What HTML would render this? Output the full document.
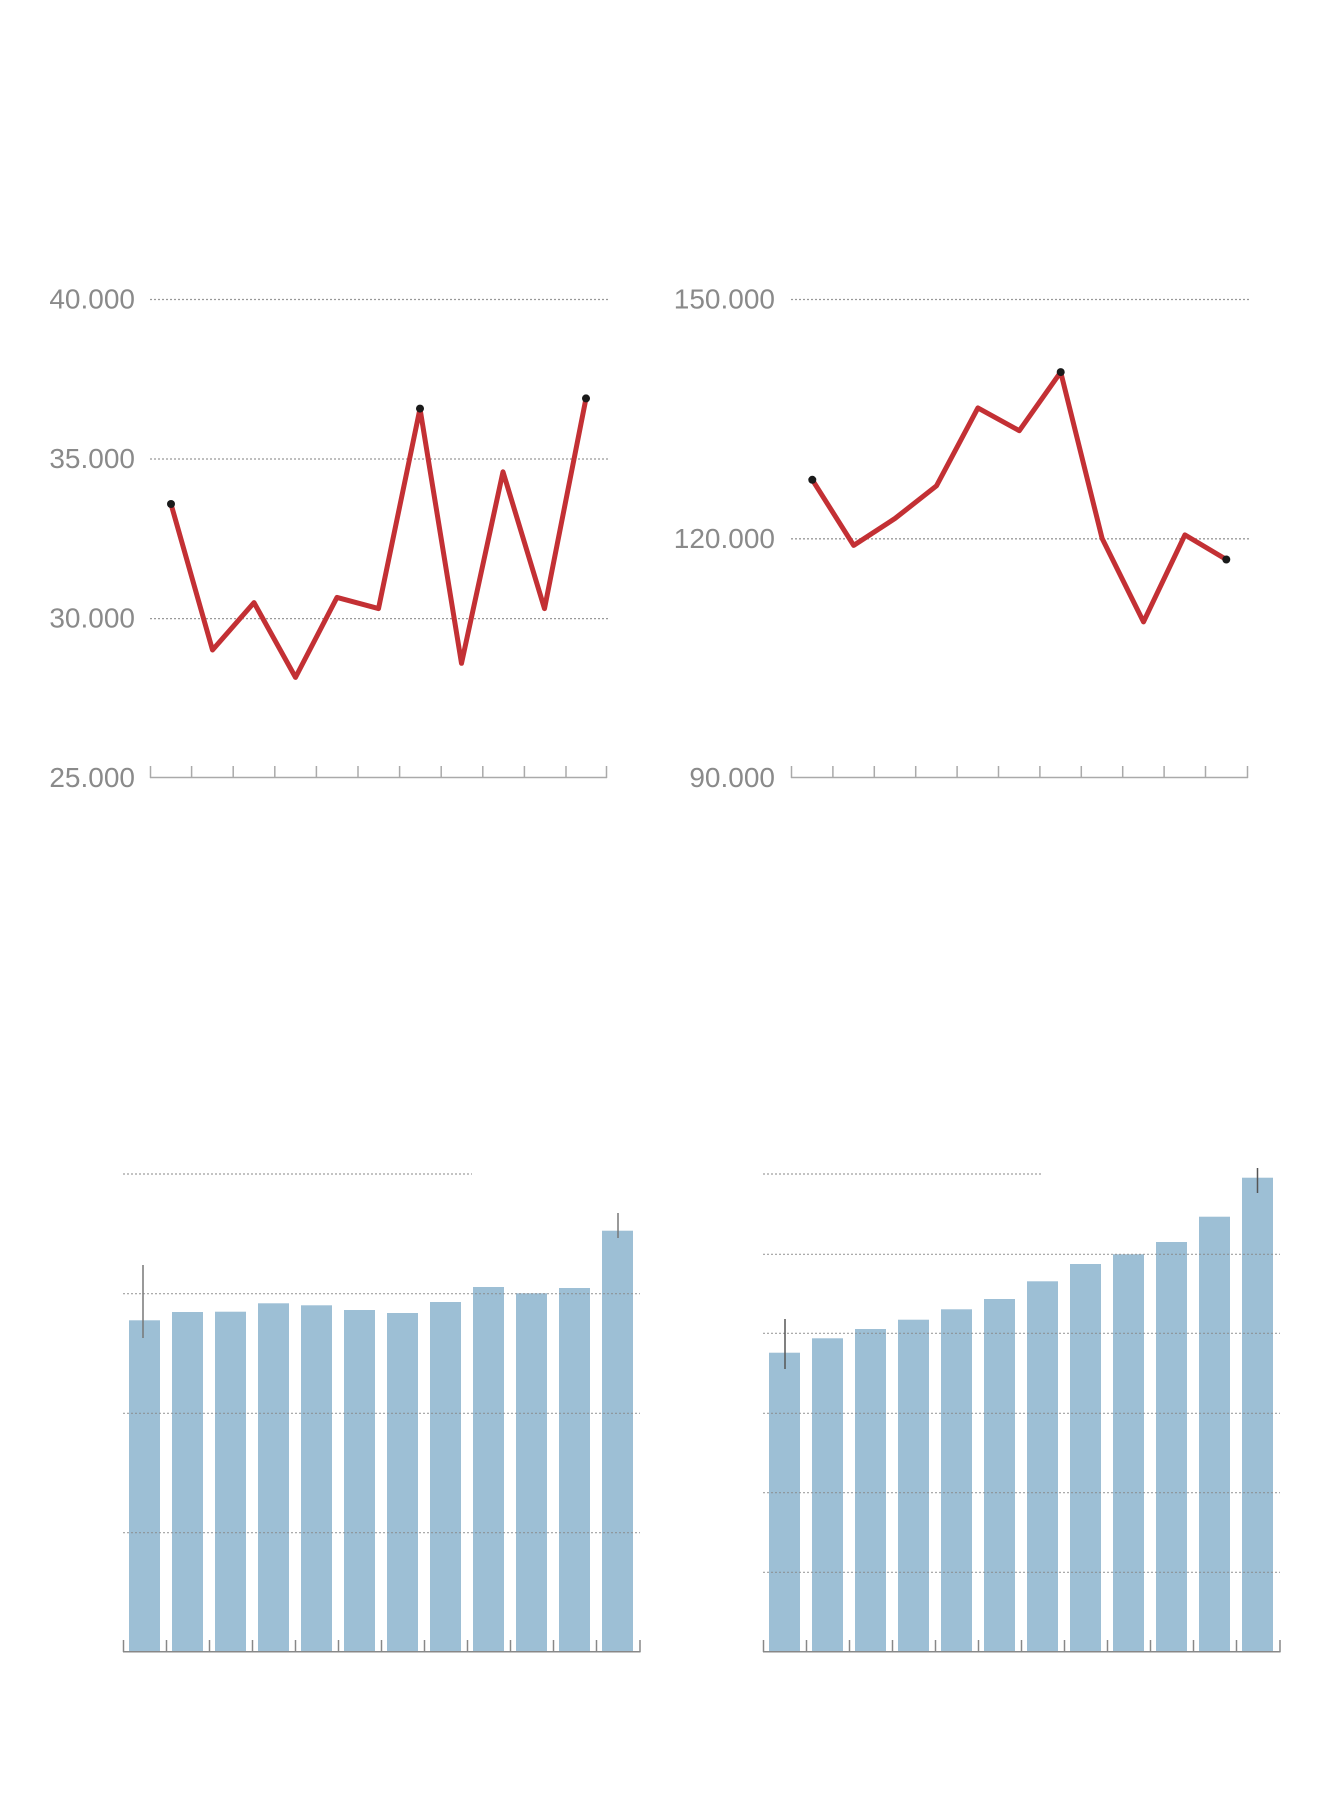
<!DOCTYPE html>
<html><head><meta charset="utf-8"><style>
html,body{margin:0;padding:0;background:#fff}
svg{display:block}
text{font-family:"Liberation Sans",sans-serif;font-size:28px;fill:#8a8a8a}
</style></head><body>
<svg width="1320" height="1800" viewBox="0 0 1320 1800">
<!-- Chart 1 -->
<g stroke="#999" stroke-width="1.3" stroke-dasharray="2,2">
<line x1="150" y1="299.5" x2="608" y2="299.5"/>
<line x1="150" y1="459" x2="608" y2="459"/>
<line x1="150" y1="618.6" x2="608" y2="618.6"/>
</g>
<g text-anchor="end">
<text x="135" y="308.5">40.000</text>
<text x="135" y="468">35.000</text>
<text x="135" y="627.6">30.000</text>
<text x="135" y="787">25.000</text>
</g>
<g stroke="#aaa" stroke-width="1.5">
<line x1="150" y1="777.5" x2="607" y2="777.5"/>
<line x1="150.5" y1="766" x2="150.5" y2="778"/><line x1="191.6" y1="766" x2="191.6" y2="778"/><line x1="233.2" y1="766" x2="233.2" y2="778"/><line x1="274.8" y1="766" x2="274.8" y2="778"/><line x1="316.4" y1="766" x2="316.4" y2="778"/><line x1="358" y1="766" x2="358" y2="778"/><line x1="399.6" y1="766" x2="399.6" y2="778"/><line x1="441.2" y1="766" x2="441.2" y2="778"/><line x1="482.8" y1="766" x2="482.8" y2="778"/><line x1="524.4" y1="766" x2="524.4" y2="778"/><line x1="566" y1="766" x2="566" y2="778"/><line x1="606.5" y1="766" x2="606.5" y2="778"/>
</g>
<polyline fill="none" stroke="#c33034" stroke-width="5" stroke-linejoin="round" points="171,504 212.5,650 254,602.6 295.5,677.4 337,597.4 378.5,608.6 420,408.6 461.5,663.3 503,471.8 544.5,608.6 586,398.4"/>
<g fill="#1a1a1a"><circle cx="171" cy="504" r="4"/><circle cx="420" cy="408.6" r="4"/><circle cx="586" cy="398.4" r="4"/></g>

<!-- Chart 2 -->
<g stroke="#999" stroke-width="1.3" stroke-dasharray="2,2">
<line x1="791" y1="299.5" x2="1250" y2="299.5"/>
<line x1="791" y1="538.8" x2="1250" y2="538.8"/>
</g>
<g text-anchor="end">
<text x="775" y="308.5">150.000</text>
<text x="775" y="547.8">120.000</text>
<text x="775" y="787">90.000</text>
</g>
<g stroke="#aaa" stroke-width="1.5">
<line x1="791" y1="777.5" x2="1248" y2="777.5"/>
<line x1="791.5" y1="766" x2="791.5" y2="778"/><line x1="832.9" y1="766" x2="832.9" y2="778"/><line x1="874.3" y1="766" x2="874.3" y2="778"/><line x1="915.7" y1="766" x2="915.7" y2="778"/><line x1="957.1" y1="766" x2="957.1" y2="778"/><line x1="998.5" y1="766" x2="998.5" y2="778"/><line x1="1039.9" y1="766" x2="1039.9" y2="778"/><line x1="1081.3" y1="766" x2="1081.3" y2="778"/><line x1="1122.7" y1="766" x2="1122.7" y2="778"/><line x1="1164.1" y1="766" x2="1164.1" y2="778"/><line x1="1205.5" y1="766" x2="1205.5" y2="778"/><line x1="1247.5" y1="766" x2="1247.5" y2="778"/>
</g>
<polyline fill="none" stroke="#c33034" stroke-width="5" stroke-linejoin="round" points="812.3,479.8 853.7,545.4 895.1,518.4 936.5,485.8 977.9,407.9 1019.3,430.7 1060.7,372.1 1102.1,538.4 1143.5,621.9 1184.9,534.9 1226.3,559.5"/>
<g fill="#1a1a1a"><circle cx="812.3" cy="479.8" r="4"/><circle cx="1060.7" cy="372.1" r="4"/><circle cx="1226.3" cy="559.5" r="4"/></g>

<!-- Chart 3 bars -->
<g fill="#9dbfd5">
<rect x="129" y="1320.3" width="31" height="331.4"/>
<rect x="172" y="1312" width="31" height="339.7"/>
<rect x="215" y="1311.7" width="31" height="340"/>
<rect x="258" y="1303.3" width="31" height="348.4"/>
<rect x="301" y="1305.3" width="31" height="346.4"/>
<rect x="344" y="1310" width="31" height="341.7"/>
<rect x="387" y="1313" width="31" height="338.7"/>
<rect x="430" y="1302" width="31" height="349.7"/>
<rect x="473" y="1287" width="31" height="364.7"/>
<rect x="516" y="1293.3" width="31" height="358.4"/>
<rect x="559" y="1288" width="31" height="363.7"/>
<rect x="602" y="1230.7" width="31" height="421"/>
</g>
<g stroke="#888" stroke-width="1.2" stroke-dasharray="2,2" opacity="0.8">
<line x1="123" y1="1174" x2="472" y2="1174"/>
<line x1="123" y1="1293.7" x2="640" y2="1293.7"/>
<line x1="123" y1="1413.3" x2="640" y2="1413.3"/>
<line x1="123" y1="1532.7" x2="640" y2="1532.7"/>
</g>
<g stroke="#777" stroke-width="1.5">
<line x1="143" y1="1265" x2="143" y2="1338"/>
<line x1="618" y1="1213" x2="618" y2="1238"/>
</g>
<g stroke="#888" stroke-width="1.5">
<line x1="123" y1="1651.7" x2="640.5" y2="1651.7"/>
<line x1="123.5" y1="1640" x2="123.5" y2="1652"/><line x1="166.5" y1="1640" x2="166.5" y2="1652"/><line x1="209.5" y1="1640" x2="209.5" y2="1652"/><line x1="252.5" y1="1640" x2="252.5" y2="1652"/><line x1="295.5" y1="1640" x2="295.5" y2="1652"/><line x1="338.5" y1="1640" x2="338.5" y2="1652"/><line x1="381.5" y1="1640" x2="381.5" y2="1652"/><line x1="424.5" y1="1640" x2="424.5" y2="1652"/><line x1="467.5" y1="1640" x2="467.5" y2="1652"/><line x1="510.5" y1="1640" x2="510.5" y2="1652"/><line x1="553.5" y1="1640" x2="553.5" y2="1652"/><line x1="596.5" y1="1640" x2="596.5" y2="1652"/><line x1="640" y1="1640" x2="640" y2="1652"/>
</g>

<!-- Chart 4 bars -->
<g fill="#9dbfd5">
<rect x="769" y="1352.7" width="31" height="299"/>
<rect x="812" y="1338.3" width="31" height="313.4"/>
<rect x="855" y="1329" width="31" height="322.7"/>
<rect x="898" y="1319.7" width="31" height="332"/>
<rect x="941" y="1309.3" width="31" height="342.4"/>
<rect x="984" y="1299" width="31" height="352.7"/>
<rect x="1027" y="1281.3" width="31" height="370.4"/>
<rect x="1070" y="1264" width="31" height="387.7"/>
<rect x="1113" y="1254.3" width="31" height="397.4"/>
<rect x="1156" y="1242" width="31" height="409.7"/>
<rect x="1199" y="1216.7" width="31" height="435"/>
<rect x="1242" y="1177.7" width="31" height="474"/>
</g>
<g stroke="#888" stroke-width="1.2" stroke-dasharray="2,2" opacity="0.8">
<line x1="763" y1="1174" x2="1042" y2="1174"/>
<line x1="763" y1="1254.3" x2="1280" y2="1254.3"/>
<line x1="763" y1="1333.3" x2="1280" y2="1333.3"/>
<line x1="763" y1="1413.3" x2="1280" y2="1413.3"/>
<line x1="763" y1="1492.7" x2="1280" y2="1492.7"/>
<line x1="763" y1="1572.3" x2="1280" y2="1572.3"/>
</g>
<g stroke="#555" stroke-width="1.5">
<line x1="785" y1="1319" x2="785" y2="1369"/>
<line x1="1257.5" y1="1168" x2="1257.5" y2="1193"/>
</g>
<g stroke="#888" stroke-width="1.5">
<line x1="763" y1="1651.7" x2="1280.5" y2="1651.7"/>
<line x1="763.5" y1="1640" x2="763.5" y2="1652"/><line x1="806.5" y1="1640" x2="806.5" y2="1652"/><line x1="849.5" y1="1640" x2="849.5" y2="1652"/><line x1="892.5" y1="1640" x2="892.5" y2="1652"/><line x1="935.5" y1="1640" x2="935.5" y2="1652"/><line x1="978.5" y1="1640" x2="978.5" y2="1652"/><line x1="1021.5" y1="1640" x2="1021.5" y2="1652"/><line x1="1064.5" y1="1640" x2="1064.5" y2="1652"/><line x1="1107.5" y1="1640" x2="1107.5" y2="1652"/><line x1="1150.5" y1="1640" x2="1150.5" y2="1652"/><line x1="1193.5" y1="1640" x2="1193.5" y2="1652"/><line x1="1236.5" y1="1640" x2="1236.5" y2="1652"/><line x1="1280" y1="1640" x2="1280" y2="1652"/>
</g>
</svg>
</body></html>
